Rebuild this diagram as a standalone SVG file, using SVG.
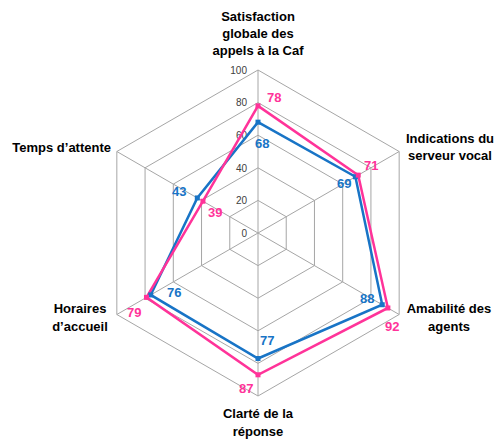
<svg xmlns="http://www.w3.org/2000/svg" width="494" height="443" viewBox="0 0 494 443">
<style>
.grid{fill:none;stroke:#a6a6a6;stroke-width:1}
.tick{font-family:"Liberation Sans",Arial,sans-serif;font-size:10px;fill:#404040;text-anchor:end}
.title{font-family:"Liberation Sans",Arial,sans-serif;font-size:13px;font-weight:bold;fill:#000}
.lab{font-family:"Liberation Sans",Arial,sans-serif;font-size:13px;font-weight:bold}
.blue{fill:none;stroke:#1874c6;stroke-width:2.5;stroke-linejoin:miter}
.pink{fill:none;stroke:#ff3399;stroke-width:2.5;stroke-linejoin:miter}
.bm{fill:#1874c6}
.pm{fill:#ff3399}
.bt{fill:#1874c6}
.pt{fill:#ff3399}
</style>
<rect width="494" height="443" fill="#fff"/>
<g id="grid">
<polygon class="grid" points="258,200.4 286.23,216.7 286.23,249.3 258,265.6 229.77,249.3 229.77,216.7"/>
<polygon class="grid" points="258,167.8 314.46,200.4 314.46,265.6 258,298.2 201.54,265.6 201.54,200.4"/>
<polygon class="grid" points="258,135.2 342.7,184.1 342.7,281.9 258,330.8 173.3,281.9 173.3,184.1"/>
<polygon class="grid" points="258,102.6 370.93,167.8 370.93,298.2 258,363.4 145.07,298.2 145.07,167.8"/>
<polygon class="grid" points="258,70 399.16,151.5 399.16,314.5 258,396 116.84,314.5 116.84,151.5"/>
<line class="grid" x1="258" y1="233" x2="258" y2="70"/>
<line class="grid" x1="258" y1="233" x2="399.16" y2="151.5"/>
<line class="grid" x1="258" y1="233" x2="399.16" y2="314.5"/>
<line class="grid" x1="258" y1="233" x2="258" y2="396"/>
<line class="grid" x1="258" y1="233" x2="116.84" y2="314.5"/>
<line class="grid" x1="258" y1="233" x2="116.84" y2="151.5"/>
<text class="tick" x="247" y="237">0</text>
<text class="tick" x="247" y="204">20</text>
<text class="tick" x="247" y="172">40</text>
<text class="tick" x="247" y="139">60</text>
<text class="tick" x="247" y="106">80</text>
<text class="tick" x="247" y="74">100</text>
</g>
<g id="axis-satisfaction"><text class="title" text-anchor="middle"><tspan x="258" y="21">Satisfaction</tspan><tspan x="258" y="38">globale des</tspan><tspan x="258" y="55">appels à la Caf</tspan></text></g>
<g id="axis-indications"><text class="title" text-anchor="middle"><tspan x="450" y="143">Indications du</tspan><tspan x="450" y="160">serveur vocal</tspan></text></g>
<g id="axis-amabilite"><text class="title" text-anchor="middle"><tspan x="449" y="313">Amabilité des</tspan><tspan x="449" y="331">agents</tspan></text></g>
<g id="axis-clarte"><text class="title" text-anchor="middle"><tspan x="258" y="418">Clarté de la</tspan><tspan x="258" y="436">réponse</tspan></text></g>
<g id="axis-horaires"><text class="title" text-anchor="middle"><tspan x="80" y="313">Horaires</tspan><tspan x="80" y="331">d’accueil</tspan></text></g>
<g id="axis-temps"><text class="title" text-anchor="end" x="111" y="152">Temps d’attente</text></g>
<g id="connectors">
<polygon class="blue" points="258,122.16 355.4,176.76 382.22,304.72 258,358.51 150.72,294.94 197.3,197.95"/>
<polygon class="pink" points="258,105.86 358.23,175.13 387.87,307.98 258,374.81 146.48,297.39 202.95,201.21"/>
</g>
<g id="series-blue">
<rect class="bm" x="255.5" y="119.66" width="5" height="5"/>
<rect class="bm" x="352.9" y="174.26" width="5" height="5"/>
<rect class="bm" x="379.72" y="302.22" width="5" height="5"/>
<rect class="bm" x="255.5" y="356.01" width="5" height="5"/>
<rect class="bm" x="148.22" y="292.44" width="5" height="5"/>
<rect class="bm" x="194.8" y="195.45" width="5" height="5"/>
<text class="lab bt" x="255" y="148">68</text>
<text class="lab bt" x="337" y="188">69</text>
<text class="lab bt" x="360" y="303">88</text>
<text class="lab bt" x="260" y="345">77</text>
<text class="lab bt" x="167" y="297">76</text>
<text class="lab bt" x="172" y="196">43</text>
</g>
<g id="series-pink">
<rect class="pm" x="255.5" y="103.36" width="5" height="5"/>
<rect class="pm" x="355.73" y="172.63" width="5" height="5"/>
<rect class="pm" x="385.37" y="305.48" width="5" height="5"/>
<rect class="pm" x="255.5" y="372.31" width="5" height="5"/>
<rect class="pm" x="143.98" y="294.89" width="5" height="5"/>
<rect class="pm" x="200.45" y="198.71" width="5" height="5"/>
<text class="lab pt" x="267" y="102">78</text>
<text class="lab pt" x="364" y="170">71</text>
<text class="lab pt" x="385" y="331">92</text>
<text class="lab pt" x="239" y="393">87</text>
<text class="lab pt" x="127" y="317">79</text>
<text class="lab pt" x="208" y="217">39</text>
</g>
</svg>
